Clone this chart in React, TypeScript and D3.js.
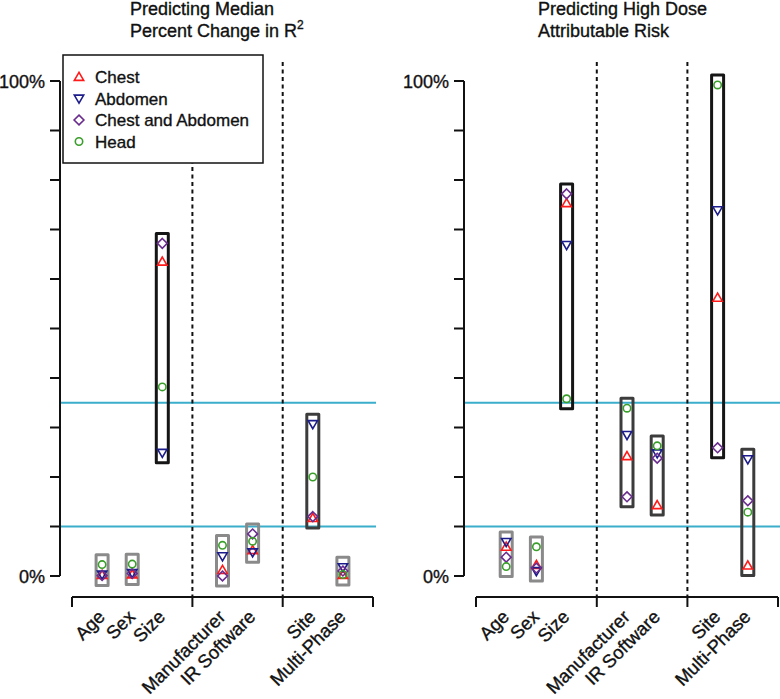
import React from "react";
import * as d3 from "d3";

const categories = ["Age", "Sex", "Size", "Manufacturer", "IR Software", "Site", "Multi-Phase"];
const positions = [1, 2, 3, 5, 6, 8, 9];
const groupBreaks = [0, 4, 7, 10];
const refLines = [10, 35];
const yTickValues = [0, 10, 20, 30, 40, 50, 60, 70, 80, 90, 100];
const yTickLabels = ["0%", "100%"];

const seriesNames = ["Chest", "Abdomen", "Chest and Abdomen", "Head"];

// Left panel: Median percent change in R^2
const chestR2 = [0.2, 0.3, 63.5, 1.2, 5.2, 11.7, 0.2];
const abdomenR2 = [0.3, 0.6, 24.9, 4.0, 4.8, 30.7, 1.8];
const chestAbdR2 = [0.1, 0.5, 67.2, 0.0, 8.5, 12.0, 1.0];
const headR2 = [2.3, 2.4, 38.2, 6.2, 7.0, 20.0, 0.3];

// Right panel: High dose attributable risk
const chestAR = [5.9, 2.2, 75.3, 24.2, 14.3, 56.2, 2.1];
const abdomenAR = [6.9, 1.0, 66.9, 28.5, 24.8, 73.9, 23.6];
const chestAbdAR = [3.8, 1.6, 77.2, 16.0, 23.8, 25.9, 15.2];
const headAR = [1.9, 5.9, 35.8, 33.9, 26.3, 99.2, 12.9];

const COLORS = ["#ff1a1a", "#1c1c8a", "#6a2d8e", "#3a9e2a"];
const SHAPES = ["up", "down", "diamond", "circle"];
const CYAN = "#3aaecb";
const FONT = "'Liberation Sans', Arial, Helvetica, sans-serif";
const TXT = { fill: "#111", stroke: "#111", strokeWidth: 0.35 };

function markerPath(shape: string, cx: number, cy: number): string | null {
  if (shape === "up") return `M${cx},${cy - 4.7}L${cx - 4.7},${cy + 3.4}L${cx + 4.7},${cy + 3.4}Z`;
  if (shape === "down") return `M${cx},${cy + 4.7}L${cx - 4.7},${cy - 3.4}L${cx + 4.7},${cy - 3.4}Z`;
  if (shape === "diamond") return `M${cx},${cy - 4.9}L${cx + 4.9},${cy}L${cx},${cy + 4.9}L${cx - 4.9},${cy}Z`;
  return null;
}

function Marker({ shape, cx, cy, color }: { shape: string; cx: number; cy: number; color: string }) {
  if (shape === "circle") {
    return <circle cx={cx} cy={cy} r={3.7} fill="none" stroke={color} strokeWidth={1.6} />;
  }
  return <path d={markerPath(shape, cx, cy)!} fill="none" stroke={color} strokeWidth={1.6} strokeLinejoin="miter" />;
}

function boxColor(maxV: number) {
  if (maxV < 10) return "#8a8a8a";
  if (maxV < 35) return "#3c3c3c";
  return "#151515";
}

type PanelProps = {
  xRange: [number, number];
  axisX: number;
  lineEnd: number;
  series: number[][];
  titleX: number;
  title1: string;
  title2: string;
  sup?: string;
};

function Panel({ xRange, axisX, lineEnd, series, titleX, title1, title2, sup }: PanelProps) {
  const x = d3.scaleLinear().domain([0, 10]).range(xRange);
  const y = d3.scaleLinear().domain([0, 100]).range([576, 81]);
  const axisY = 597;
  const pad = 2;
  return (
    <g fontFamily={FONT}>
      <text x={titleX} y={15} fontSize={18} {...TXT}>{title1}</text>
      <text x={titleX} y={37} fontSize={18} {...TXT}>
        {title2}
        {sup && <tspan dy={-8} fontSize={12}>{sup}</tspan>}
      </text>
      {refLines.map((v) => (
        <line key={v} x1={axisX} x2={lineEnd} y1={y(v)} y2={y(v)} stroke={CYAN} strokeWidth={2} />
      ))}
      {groupBreaks.slice(1, -1).map((b) => (
        <line key={b} x1={x(b)} x2={x(b)} y1={62} y2={axisY} stroke="#111" strokeWidth={2} strokeDasharray="4,3.5" />
      ))}
      <line x1={axisX} x2={axisX} y1={y(100)} y2={y(0)} stroke="#111" strokeWidth={2} />
      {yTickValues.map((t) => (
        <line key={t} x1={axisX - 10} x2={axisX} y1={y(t)} y2={y(t)} stroke="#111" strokeWidth={2} />
      ))}
      <text x={axisX - 15} y={y(100) + 6.5} fontSize={18} textAnchor="end" {...TXT}>{yTickLabels[1]}</text>
      <text x={axisX - 15} y={y(0) + 6.5} fontSize={18} textAnchor="end" {...TXT}>{yTickLabels[0]}</text>
      <line x1={x(0)} x2={x(10)} y1={axisY} y2={axisY} stroke="#111" strokeWidth={2} />
      {groupBreaks.map((b) => (
        <line key={b} x1={x(b)} x2={x(b)} y1={axisY} y2={axisY + 10} stroke="#111" strokeWidth={2} />
      ))}
      {categories.map((c, i) => {
        const ax = x(positions[i]) + 4;
        const ay = 618;
        return (
          <text key={c} x={ax} y={ay} fontSize={18.5} textAnchor="end" {...TXT} transform={`rotate(-45, ${ax}, ${ay})`}>
            {c}
          </text>
        );
      })}
      {categories.map((c, i) => {
        const vals = series.map((s) => s[i]);
        const mx = d3.max(vals)!;
        const mn = d3.min(vals)!;
        const cx = x(positions[i]);
        return (
          <rect
            key={c}
            x={cx - 6}
            y={y(mx + pad)}
            width={12}
            height={y(mn - pad) - y(mx + pad)}
            fill="none"
            stroke={boxColor(mx)}
            strokeWidth={3}
            strokeLinejoin="round"
          />
        );
      })}
      {series.map((s, si) =>
        s.map((v, i) => (
          <Marker key={`${si}-${i}`} shape={SHAPES[si]} cx={x(positions[i])} cy={y(v)} color={COLORS[si]} />
        ))
      )}
    </g>
  );
}

export default function App() {
  const legendRows = [77, 98.5, 120, 141.5];
  return (
    <svg width={780} height={699} style={{ position: "absolute", left: 0, top: 0, background: "#fff" }}>
      <rect x={0} y={0} width={780} height={699} fill="#fff" />
      <Panel
        xRange={[72, 373]}
        axisX={60}
        lineEnd={376}
        series={[chestR2, abdomenR2, chestAbdR2, headR2]}
        titleX={130}
        title1="Predicting Median"
        title2="Percent Change in R"
        sup="2"
      />
      <Panel
        xRange={[476, 778]}
        axisX={464}
        lineEnd={780}
        series={[chestAR, abdomenAR, chestAbdAR, headAR]}
        titleX={538}
        title1="Predicting High Dose"
        title2="Attributable Risk"
      />
      <g fontFamily={FONT}>
        <rect x={63} y={55} width={200} height={108} fill="#fff" stroke="#111" strokeWidth={1.5} />
        {seriesNames.map((n, i) => (
          <g key={n}>
            <Marker shape={SHAPES[i]} cx={79} cy={legendRows[i]} color={COLORS[i]} />
            <text x={95} y={legendRows[i] + 6} fontSize={17} {...TXT}>{n}</text>
          </g>
        ))}
      </g>
    </svg>
  );
}
